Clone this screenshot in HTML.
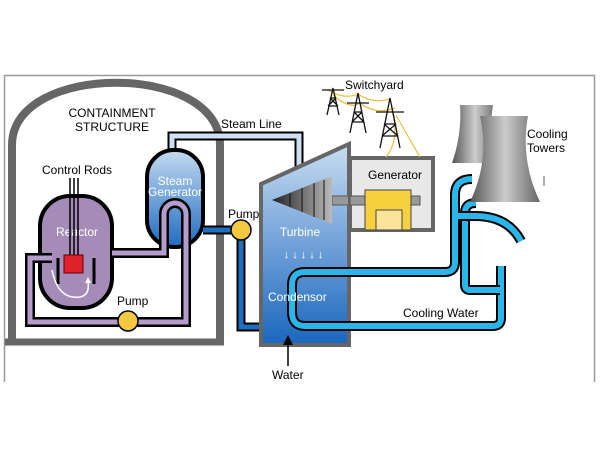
<!DOCTYPE html>
<html><head><style>body{margin:0;background:#fff}svg{display:block}text{font-family:"Liberation Sans",sans-serif;font-size:12px}</style></head><body>
<svg width="600" height="450" viewBox="0 0 600 450">
<defs>
<linearGradient id="sg" x1="0" y1="0" x2="0" y2="1"><stop offset="0" stop-color="#c4daf0"/><stop offset="1" stop-color="#1f6cc2"/></linearGradient>
<linearGradient id="tb" x1="0" y1="0" x2="0" y2="1"><stop offset="0" stop-color="#c8ddf2"/><stop offset="1" stop-color="#1a66bd"/></linearGradient>
<linearGradient id="tw" x1="0" y1="0" x2="1" y2="0"><stop offset="0" stop-color="#555"/><stop offset="0.5" stop-color="#ccc"/><stop offset="1" stop-color="#666"/></linearGradient>
<linearGradient id="cn" x1="0" y1="0" x2="1" y2="0"><stop offset="0" stop-color="#222"/><stop offset="1" stop-color="#bbb"/></linearGradient>
</defs>
<path d="M4.5,382 V75.5 H594.5 V382" fill="none" stroke="#999" stroke-width="1.5"/>
<!-- containment -->
<path d="M12,343 V145 C12,62 220,62 220,145 V343" fill="none" stroke="#666" stroke-width="8"/>
<path d="M5,342 H224" stroke="#666" stroke-width="7"/>
<text x="112" y="117" text-anchor="middle">CONTAINMENT</text>
<text x="112" y="131" text-anchor="middle">STRUCTURE</text>
<!-- steam line -->
<path d="M172,150 V136 H299 V170" fill="none" stroke="#000" stroke-width="9"/>
<path d="M172,150 V136 H299 V170" fill="none" stroke="#cfe0f2" stroke-width="5"/>
<text x="221" y="128">Steam Line</text>
<!-- reactor -->
<rect x="40" y="196" width="72" height="112" rx="30" fill="#a48bb8" stroke="#000" stroke-width="4"/>
<text x="77" y="236" text-anchor="middle" fill="#fff">Reactor</text>
<text x="42" y="174">Control Rods</text>
<path d="M70,178 V258 M74,178 V258 M78,178 V258" stroke="#000" stroke-width="1.5"/>
<rect x="64" y="255" width="19" height="18" fill="#e0202a" stroke="#600" stroke-width="1"/>
<path d="M58,258 V284 M94,258 V284" stroke="#000" stroke-width="3"/>
<path d="M52,270 Q58,300 80,297 Q90,295 88,282" fill="none" stroke="#fff" stroke-width="1.5"/>
<path d="M85,283 L88,277 L91,283Z" fill="#fff"/>
<!-- steam generator -->
<rect x="147" y="150" width="56" height="97" rx="27" fill="url(#sg)" stroke="#000" stroke-width="4"/>
<text x="175" y="185" text-anchor="middle" fill="#fff">Steam</text>
<text x="175" y="196" text-anchor="middle" fill="#fff">Generator</text>
<!-- purple loop -->
<path d="M112,253 H164 V214 A11,11 0 0 1 186,214 V322 H30 V258 H52" fill="none" stroke="#000" stroke-width="10"/>
<path d="M112,253 H164 V214 A11,11 0 0 1 186,214 V322 H30 V258 H52" fill="none" stroke="#b59dcb" stroke-width="5"/>
<circle cx="128" cy="321" r="10" fill="#f5c842" stroke="#000" stroke-width="1.5"/>
<text x="117" y="305">Pump</text>
<!-- feedwater -->
<path d="M203,230 H241 V327 H264" fill="none" stroke="#000" stroke-width="9"/>
<path d="M203,230 H241 V327 H264" fill="none" stroke="#1f6fc0" stroke-width="5"/>
<circle cx="241" cy="230" r="10" fill="#f5c842" stroke="#000" stroke-width="1.5"/>
<text x="228" y="218">Pump</text>
<!-- turbine building -->
<polygon points="261,184 349,144 349,345 261,345" fill="url(#tb)" stroke="#666" stroke-width="4"/>
<rect x="332" y="196" width="88" height="9" fill="#999" stroke="#555"/>
<polygon points="272,200 332,176 332,224" fill="url(#cn)"/>
<path d="M290,193 V207 M302,188 V212 M314,183 V217 M324,180 V220" stroke="#111" stroke-width="1"/>
<text x="300" y="236" text-anchor="middle" fill="#fff">Turbine</text>
<text x="305" y="258" text-anchor="middle" fill="#fff" style="font-size:11px;letter-spacing:3px">↓↓↓↓↓</text>
<!-- generator -->
<rect x="350" y="158" width="83" height="72" fill="#e8e8e8" stroke="#666" stroke-width="4"/>
<rect x="350" y="196" width="70" height="9" fill="#999" stroke="#555"/>
<rect x="365" y="190" width="46" height="40" fill="#f7d040" stroke="#444"/>
<rect x="376" y="210" width="26" height="20" fill="#fbe39a" stroke="#444"/>
<text x="368" y="179">Generator</text>
<!-- cooling water pipes -->
<g fill="none">
<path id="pa" d="M472,179 Q455,179 455,195 V262 Q455,272 445,272 H305 Q292,272 292,285 V312 Q292,326 305,326 H493 Q501,326 501,318 V266" stroke="#000" stroke-width="10"/>
<path d="M472,179 Q455,179 455,195 V262 Q455,272 445,272 H305 Q292,272 292,285 V312 Q292,326 305,326 H493 Q501,326 501,318 V266" stroke="#2ab6ea" stroke-width="6"/>
<path d="M476,203 Q465,203 465,213 V285 Q465,290 470,290 H500" stroke="#000" stroke-width="10"/>
<path d="M476,203 Q465,203 465,213 V285 Q465,290 470,290 H500" stroke="#2ab6ea" stroke-width="6"/>
<path d="M458,216 H475 Q508,216 521,241" stroke="#000" stroke-width="10"/>
<path d="M458,216 H475 Q508,216 521,241" stroke="#2ab6ea" stroke-width="6"/>
</g>
<text x="268" y="301" fill="#fff">Condensor</text>
<text x="403" y="317">Cooling Water</text>
<path d="M288,366 V342" stroke="#000" stroke-width="1.5"/><path d="M283,345 L288,335 L293,345Z"/>
<text x="272" y="379">Water</text>
<!-- towers -->
<path d="M460,105 H493 Q488,135 498,163 H452 Q462,135 460,105Z" fill="url(#tw)"/>
<path d="M480,116 H528 Q520,160 540,202 H470 Q490,160 480,116Z" fill="url(#tw)"/>
<text x="527" y="138">Cooling</text>
<text x="527" y="152">Towers</text>
<path d="M544,176 V186" stroke="#555"/>
<!-- switchyard -->
<g fill="none" stroke="#e8c040" stroke-width="1.2">
<path d="M328,90 Q345,100 358,94 Q372,104 390,99 M333,95 Q350,110 360,103 Q375,115 395,108 M392,110 Q400,140 386,157 M396,115 Q410,140 420,157"/>
</g>
<g stroke="#111" stroke-width="1.3" fill="none">
<path d="M327,115 L333,88 L339,115 M329,106 H337 M330,98 H336 M322,90 H344 M328,106 L336,98 M330,98 L338,106"/>
<path d="M350,133 L358,93 L366,133 M352,122 H364 M354,112 H362 M347,103 H369 M352,122 L362,112 M354,112 L364,122"/>
<path d="M380,148 L390,98 L400,148 M382,136 H398 M384,124 H396 M376,112 H404 M382,136 L396,124 M384,124 L398,136"/>
</g>
<text x="345" y="89">Switchyard</text>
</svg>
</body></html>
